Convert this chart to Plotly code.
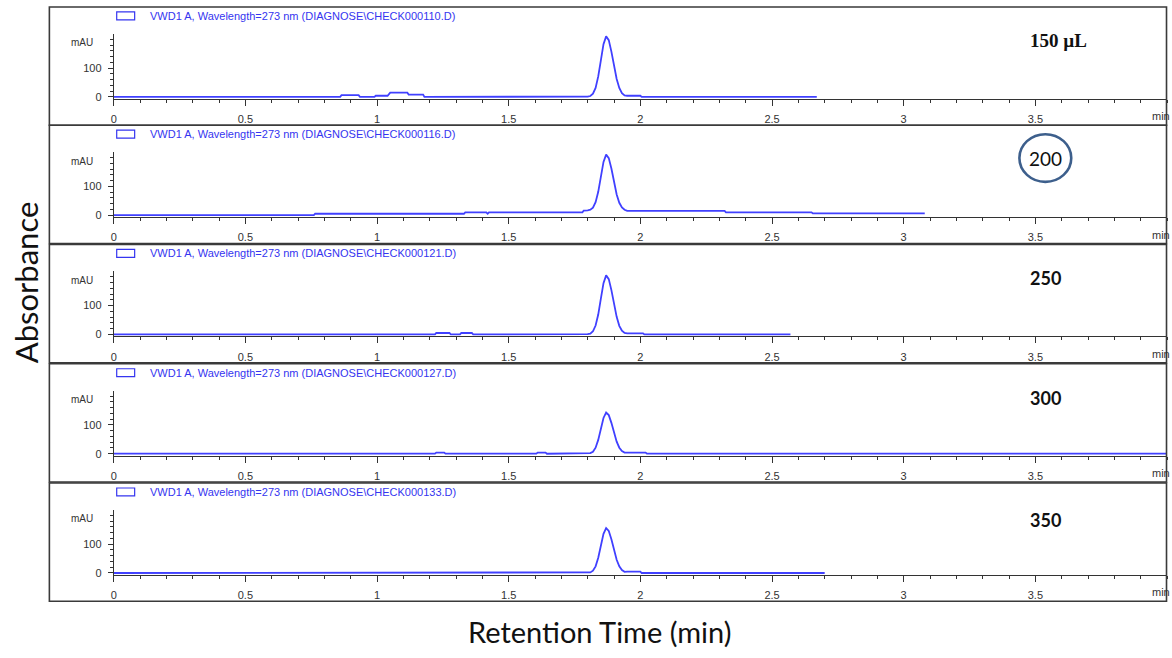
import plotly.graph_objects as go

# ---------------------------------------------------------------------------
# Chromatogram data (retention time in min, absorbance in mAU), one run per
# injection volume, VWD1 A detector at 273 nm.
# ---------------------------------------------------------------------------
volume_labels = ["150 \u00b5L", "200", "250", "300", "350"]
data_files = ["CHECK000110.D", "CHECK000116.D", "CHECK000121.D",
              "CHECK000127.D", "CHECK000133.D"]

t_150 = [0.00, 0.86, 0.865, 0.93, 0.935, 0.99, 0.995, 1.04, 1.05, 1.115, 1.12,
         1.175, 1.18, 1.79, 1.80, 1.81, 1.82, 1.83, 1.84, 1.85, 1.86, 1.87,
         1.88, 1.89, 1.90, 1.91, 1.92, 1.93, 1.94, 1.95, 2.00, 2.005, 2.67]
a_150 = [0, 0, 6, 6, 0, 0, 4, 4, 15, 15, 8,
         8, 0, 0, 1, 3, 11, 31, 71, 127, 183, 210,
         197, 157, 107, 62, 31, 13, 5, 4, 4, 0, 0]

t_200 = [0.00, 0.76, 0.765, 1.33, 1.335, 1.415, 1.42, 1.425, 1.78, 1.785,
         1.80, 1.81, 1.82, 1.83, 1.84, 1.85, 1.86, 1.87, 1.88, 1.89, 1.90,
         1.91, 1.92, 1.93, 1.94, 1.95, 2.32, 2.325, 2.65, 2.655, 3.08]
a_200 = [0, 0, 5, 5, 10, 10, 5, 10, 10, 16,
         17, 19, 26, 45, 81, 134, 185, 210, 198, 162, 114,
         72, 43, 27, 19, 15, 15, 10, 10, 6, 6]

t_250 = [0.00, 1.22, 1.225, 1.275, 1.28, 1.315, 1.32, 1.36, 1.365, 1.79,
         1.80, 1.81, 1.82, 1.83, 1.84, 1.85, 1.86, 1.87, 1.88, 1.89, 1.90,
         1.91, 1.92, 1.93, 1.94, 1.95, 2.01, 2.015, 2.57]
a_250 = [0, 0, 5, 5, 0, 0, 5, 5, 0, 0,
         1, 3, 11, 31, 69, 124, 178, 205, 192, 154, 105,
         61, 30, 13, 5, 4, 4, 0, 0]

t_300 = [0.00, 1.22, 1.225, 1.255, 1.26, 1.605, 1.61, 1.64, 1.645, 1.79,
         1.80, 1.81, 1.82, 1.83, 1.84, 1.85, 1.86, 1.87, 1.88, 1.89, 1.90,
         1.91, 1.92, 1.93, 1.94, 1.95, 2.02, 2.025, 4.00]
a_300 = [0, 0, 4, 4, 0, 0, 4, 4, 0, 0,
         1, 2, 7, 21, 48, 87, 124, 143, 134, 107, 73,
         42, 21, 9, 4, 4, 4, 0, 0]

t_350 = [0.00, 1.79,
         1.80, 1.81, 1.82, 1.83, 1.84, 1.85, 1.86, 1.87, 1.88, 1.89, 1.90,
         1.91, 1.92, 1.93, 1.94, 1.95, 2.00, 2.005, 2.70]
a_350 = [0, 0,
         1, 2, 8, 23, 53, 94, 136, 156, 146, 117, 80,
         46, 23, 10, 4, 5, 5, 0, 0]

times = [t_150, t_200, t_250, t_300, t_350]
absorbances = [a_150, a_200, a_250, a_300, a_350]

x_major_ticks = [0, 0.5, 1, 1.5, 2, 2.5, 3, 3.5]
x_tick_text = ["0", "0.5", "1", "1.5", "2", "2.5", "3", "3.5"]
y_major_ticks = [0, 100]
y_tick_text = ["0", "100"]

# ---------------------------------------------------------------------------
# Page geometry
# ---------------------------------------------------------------------------
W, H = 1172, 658
PANEL_TOPS = [7, 126, 246, 366, 486]
PANEL_H = 119
FRAME_L, FRAME_R = 46.5, 1166.5
AXIS_L, AXIS_R = 111, 1167
PX_PER_MIN = 264.0
PX_PER_MAU = 0.29

TRACE_BLUE = "#4040ff"
TEXT_BLUE = "#3535f0"
AXIS_GREY = "#333333"
FONT_TICK = dict(family="Liberation Sans, Arial, sans-serif", size=11, color=AXIS_GREY)

LABEL_POS = [(1058, 41), (1045, 159), (1045, 280), (1045, 400), (1045, 523)]


def fx(x):
    return x / W


def fy(y):
    return 1 - y / H


fig = go.Figure()
shapes = []
annotations = []
layout_axes = {}

for i in range(5):
    top = PANEL_TOPS[i]
    suffix = "" if i == 0 else str(i + 1)
    axis_line_y = top + 92.5
    axis_top_y = top + 27
    zero_y = top + 90.5

    fig.add_trace(go.Scatter(
        x=times[i], y=absorbances[i],
        xaxis="x" + suffix, yaxis="y" + suffix,
        mode="lines", line=dict(color=TRACE_BLUE, width=1.8),
        hoverinfo="skip", showlegend=False,
    ))

    y_lo = -(axis_line_y - zero_y) / PX_PER_MAU
    y_hi = (zero_y - axis_top_y) / PX_PER_MAU

    layout_axes["xaxis" + suffix] = dict(
        domain=[fx(AXIS_L), fx(AXIS_R)],
        range=[0, (AXIS_R - AXIS_L) / PX_PER_MIN],
        anchor="y" + suffix,
        showgrid=False, zeroline=False,
        showline=True, linecolor=AXIS_GREY, linewidth=1,
        ticks="outside", ticklen=6, tickwidth=1, tickcolor=AXIS_GREY,
        tickmode="array", tickvals=x_major_ticks, ticktext=x_tick_text,
        tickfont=FONT_TICK, ticklabelstandoff=4,
        minor=dict(tickmode="linear", tick0=0, dtick=0.1, ticks="outside",
                   ticklen=3, tickwidth=1, tickcolor=AXIS_GREY, showgrid=False),
        fixedrange=True,
    )
    layout_axes["yaxis" + suffix] = dict(
        domain=[fy(axis_line_y), fy(axis_top_y)],
        range=[y_lo, y_hi],
        anchor="x" + suffix,
        showgrid=False, zeroline=False,
        showline=True, linecolor=AXIS_GREY, linewidth=1,
        ticks="outside", ticklen=5, tickwidth=1, tickcolor=AXIS_GREY,
        tickmode="array", tickvals=y_major_ticks, ticktext=y_tick_text,
        tickfont=FONT_TICK, ticklabelstandoff=4,
        minor=dict(tickmode="linear", tick0=0, dtick=20, ticks="outside",
                   ticklen=3, tickwidth=1, tickcolor=AXIS_GREY, showgrid=False),
        fixedrange=True,
    )

    # panel frame
    shapes.append(dict(type="rect", xref="paper", yref="paper",
                       x0=fx(FRAME_L), x1=fx(FRAME_R),
                       y0=fy(top + PANEL_H), y1=fy(top),
                       line=dict(color="#3a3a3a", width=1.6)))
    # legend key box
    shapes.append(dict(type="rect", xref="paper", yref="paper",
                       x0=fx(114), x1=fx(132), y0=fy(top + 13), y1=fy(top + 5),
                       line=dict(color=TEXT_BLUE, width=1.2)))
    annotations.append(dict(
        text="VWD1 A, Wavelength=273 nm (DIAGNOSE\\" + data_files[i] + ")",
        xref="paper", yref="paper", x=fx(145), y=fy(top + 9),
        xanchor="left", yanchor="middle", showarrow=False,
        font=dict(family="Liberation Sans, Arial, sans-serif", size=11, color=TEXT_BLUE),
    ))
    annotations.append(dict(
        text="mAU", xref="paper", yref="paper", x=fx(92), y=fy(top + 36),
        xanchor="right", yanchor="middle", showarrow=False,
        font=dict(family="Liberation Sans, Arial, sans-serif", size=10, color=AXIS_GREY),
    ))
    annotations.append(dict(
        text="min", xref="paper", yref="paper", x=fx(1150), y=fy(top + 110),
        xanchor="left", yanchor="middle", showarrow=False,
        font=dict(family="Liberation Sans, Arial, sans-serif", size=11, color=AXIS_GREY),
    ))

    lx, ly = LABEL_POS[i]
    if i == 0:
        label_font = dict(family="Liberation Serif, Times New Roman, serif", size=19,
                          color="#111111", weight="bold")
    elif i == 1:
        label_font = dict(family="Lato, sans-serif", size=19, color="#111111")
    else:
        label_font = dict(family="Lato, sans-serif", size=18, color="#111111",
                          weight="bold")
    annotations.append(dict(
        text=volume_labels[i], xref="paper", yref="paper", x=fx(lx), y=fy(ly),
        xanchor="center", yanchor="middle", showarrow=False, font=label_font,
    ))

# ring around the 200 label
shapes.append(dict(type="circle", xref="paper", yref="paper",
                   x0=fx(1019), x1=fx(1071), y0=fy(183), y1=fy(135),
                   line=dict(color="#3d5f8c", width=2.6)))

annotations.append(dict(
    text="Absorbance", xref="paper", yref="paper", x=fx(23), y=fy(284),
    xanchor="center", yanchor="middle", textangle=-90, showarrow=False,
    font=dict(family="Lato, sans-serif", size=31, color="#111111"),
))
annotations.append(dict(
    text="Retention Time (min)", xref="paper", yref="paper", x=fx(598), y=fy(635),
    xanchor="center", yanchor="middle", showarrow=False,
    font=dict(family="Lato, sans-serif", size=29, color="#111111"),
))

fig.update_layout(
    width=W, height=H,
    margin=dict(l=0, r=0, t=0, b=0),
    paper_bgcolor="white", plot_bgcolor="white",
    showlegend=False,
    shapes=shapes, annotations=annotations,
    **layout_axes,
)

fig.write_html("out.html")
